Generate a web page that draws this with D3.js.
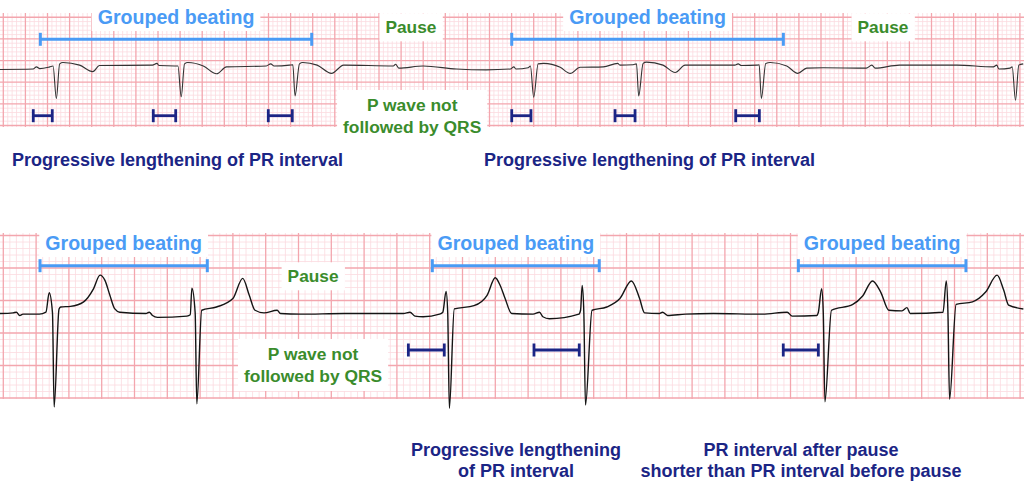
<!DOCTYPE html>
<html>
<head>
<meta charset="utf-8">
<script src="https://cdn.jsdelivr.net/npm/d3@7"></script>
<style>
  html, body { margin: 0; padding: 0; background: #fff; }
  svg { display: block; }
  text { font-family: "Liberation Sans", Arial, Helvetica, sans-serif; font-weight: bold; }
</style>
</head>
<body>
<svg id="chart" width="1024" height="492"></svg>
<script>
// ---------------- DATA (time in s, amplitude in mV) ----------------
// Upper strip (lead with inverted QRS)
const topTrace = [
  [0,-0.08],[0.30,-0.07],[0.33,-0.02],[0.36,-0.06],[0.45,-0.02],[0.48,0],[0.51,-0.75],[0.54,0.05],[0.57,0.08],
  [0.72,0.02],[0.84,-0.13],[0.90,0.01],[1.38,0.02],[1.42,0.06],[1.44,0.01],[1.58,0],[1.61,0],[1.64,-0.71],
  [1.67,0.05],[1.70,0.08],[1.84,0],[1.96,-0.18],[2.05,-0.02],[2.41,0],[2.45,0.05],[2.48,0],[2.62,0.02],
  [2.65,0.03],[2.67,-0.69],[2.71,0.05],[2.74,0.08],[2.87,0.02],[3.00,-0.17],[3.11,0.02],[3.56,0],[3.58,0.04],
  [3.61,-0.05],[3.83,0],[4.13,-0.07],[4.40,-0.09],[4.62,-0.07],[4.65,-0.02],[4.67,-0.07],[4.78,-0.04],[4.80,0],
  [4.83,-0.72],[4.87,0.05],[4.92,0.06],[5.07,-0.03],[5.16,-0.17],[5.25,-0.03],[5.46,-0.02],[5.59,0.06],[5.61,0.02],
  [5.73,0.03],[5.76,0.05],[5.78,-0.69],[5.82,0.06],[5.85,0.09],[6.00,0.02],[6.11,-0.15],[6.20,0.02],[6.65,0.02],
  [6.68,0.05],[6.71,0.01],[6.85,0.02],[6.87,0.03],[6.89,-0.75],[6.93,0.06],[6.97,0.08],[7.12,0],[7.22,-0.17],
  [7.30,-0.05],[7.45,-0.04],[7.84,-0.05],[7.89,0.02],[7.92,-0.05],[8.14,0.02],[8.66,0.02],[8.99,-0.02],[9.02,0.02],
  [9.04,-0.07],[9.14,-0.05],[9.16,-0.02],[9.19,-0.79],[9.22,0.02],[9.26,0.05]
];
// Lower strip (lead with tall T waves)
const bottomTrace = [
  [0,0],[0.08,0.01],[0.10,0.02],[0.12,-0.03],[0.14,-0.01],[0.24,-0.01],[0.28,0.02],[0.30,0.32],[0.32,0.01],
  [0.33,-1.44],[0.36,0.07],[0.37,0.10],[0.43,0.11],[0.51,0.18],[0.57,0.38],[0.61,0.59],[0.64,0.51],[0.67,0.28],
  [0.70,0.07],[0.73,0.02],[0.89,0],[0.91,0.02],[0.93,-0.03],[0.96,-0.06],[1.14,-0.04],[1.16,-0.02],[1.17,0.39],
  [1.19,0.01],[1.20,-1.39],[1.23,0.05],[1.32,0.10],[1.42,0.23],[1.48,0.54],[1.52,0.28],[1.555,0.05],[1.61,0.01],
  [1.69,0.05],[1.71,0],[1.83,-0.01],[2.10,0],[2.46,0],[2.50,0.02],[2.53,-0.04],[2.58,-0.05],[2.68,-0.01],
  [2.70,0.02],[2.72,0.34],[2.73,0.01],[2.74,-1.46],[2.77,0.07],[2.89,0.12],[2.97,0.28],[3.02,0.55],[3.05,0.43],
  [3.08,0.23],[3.12,0],[3.25,-0.01],[3.29,0.02],[3.31,-0.05],[3.35,-0.08],[3.53,-0.01],[3.54,0.05],[3.55,0.43],
  [3.56,0.01],[3.57,-1.41],[3.61,0.05],[3.70,0.10],[3.78,0.23],[3.85,0.50],[3.90,0.23],[3.93,0.01],[4.02,0],
  [4.04,0.02],[4.07,-0.03],[4.18,-0.01],[4.35,0],[4.65,-0.01],[4.80,0.02],[4.83,-0.04],[4.98,-0.03],[4.99,0.02],
  [5.01,0.38],[5.02,0.01],[5.03,-1.36],[5.07,0.05],[5.20,0.14],[5.26,0.27],[5.32,0.50],[5.37,0.33],[5.42,0.05],
  [5.50,0.04],[5.53,0.09],[5.55,0],[5.75,0.02],[5.77,0.50],[5.78,0.02],[5.79,-1.32],[5.83,0.14],[5.93,0.18],
  [6.01,0.33],[6.08,0.59],[6.12,0.36],[6.15,0.13],[6.24,0.07]
];

// Annotations (positions in seconds along each strip)
const groupedTop = [[0.365, 2.821], [4.631, 7.089]];
const groupedBottom = [[0.244, 1.264], [2.636, 3.654], [4.868, 5.890]];
const pauseTop = [3.719, 7.991];
const pauseBottom = [1.909];
const pNotConductedTop = [3.73];
const pNotConductedBottom = [1.909];
const prTop = [[0.301,0.473],[1.387,1.590],[2.428,2.645],[4.631,4.805],[5.566,5.747],[6.658,6.872]];
const prBottom = [[2.490,2.709],[3.256,3.532],[4.776,4.990]];
const labelGrouped = "Grouped beating";
const labelPause = "Pause";
const labelPNot = ["P wave not", "followed by QRS"];
const captionTop = [[0.109, ["Progressive lengthening of PR interval"]], [4.380, ["Progressive lengthening of PR interval"]]];
const captionBottom = [[3.146, ["Progressive lengthening", "of PR interval"]],
                       [4.884, ["PR interval after pause", "shorter than PR interval before pause"]]];

// ---------------- LAYOUT ----------------
const W = 1024;
const C = { blue: "#4a9bf5", green: "#3a8c2c", navy: "#1b2585", major: "#f3a6ae", minor: "#fbdbe0" };

const strips = [
  { trace: topTrace, pxPerSec: 110.5, pxPerMv: 43.3, baseY: 66, gridTop: 13, gridBot: 127, anchorX: 3.3, anchorY: 60.55,
    traceW: 1.1, traceC: "#333", groupedBarY: 39.3, groupedTextY: 24, prY: 115.7, grouped: groupedTop, pause: pauseTop, pauseY: 33.3,
    pnot: pNotConductedTop, pnotY: [111, 133], pr: prTop, captions: captionTop, capY: [166], capAnchor: "start" },
  { trace: bottomTrace, pxPerSec: 164, pxPerMv: 65, baseY: 313.5, gridTop: 233, gridBot: 399, anchorX: 3.3, anchorY: 300.5,
    traceW: 1.4, traceC: "#151515", groupedBarY: 265.7, groupedTextY: 250, prY: 350, grouped: groupedBottom, pause: pauseBottom, pauseY: 282.3,
    pnot: pNotConductedBottom, pnotY: [360, 382], pr: prBottom, captions: captionBottom, capY: [456, 477], capAnchor: "middle" }
];

const svg = d3.select("#chart");
svg.append("rect").attr("width", W).attr("height", 492).attr("fill", "#fff");

function labelBox(g, x, ys, lines, color, size, padX, padY, clipTop) {
  const grp = g.append("g");
  const rect = grp.append("rect").attr("fill", "#fff");
  const t = grp.append("text").attr("text-anchor", "middle").attr("fill", color).attr("font-size", size);
  lines.forEach((ln, i) => t.append("tspan").attr("x", x).attr("y", ys[i]).text(ln));
  const bb = t.node().getBBox();
  let y0 = bb.y - padY;
  if (clipTop !== undefined) y0 = Math.max(y0, clipTop);
  rect.attr("x", bb.x - padX).attr("y", y0).attr("width", bb.width + 2 * padX).attr("height", bb.y + bb.height + padY - y0);
}

strips.forEach(s => {
  const x = d3.scaleLinear().domain([0, W / s.pxPerSec]).range([0, W]);
  const y = d3.scaleLinear().domain([-1, 1]).range([s.baseY + s.pxPerMv, s.baseY - s.pxPerMv]);
  const g = svg.append("g");

  // grid
  const t0 = x.invert(s.anchorX), v0 = y.invert(s.anchorY);
  const grid = g.append("g");
  const vx = [], hy = [];
  for (let k = -1; ; k++) { const px = x(t0 + k * 0.04); if (px > W) break; if (px >= 0) vx.push({ px, major: k % 5 === 0 }); }
  for (let k = -30; k <= 30; k++) { const py = y(v0 + k * 0.1); if (py >= s.gridTop && py <= s.gridBot) hy.push({ py, major: ((k % 5) + 5) % 5 === 0 }); }
  [false, true].forEach(maj => {
    grid.selectAll(null).data(vx.filter(d => d.major === maj)).join("line")
      .attr("x1", d => d.px).attr("x2", d => d.px).attr("y1", s.gridTop).attr("y2", s.gridBot)
      .attr("stroke", maj ? C.major : C.minor).attr("stroke-width", maj ? 1.3 : 0.8);
    grid.selectAll(null).data(hy.filter(d => d.major === maj)).join("line")
      .attr("x1", 0).attr("x2", W).attr("y1", d => d.py).attr("y2", d => d.py)
      .attr("stroke", maj ? C.major : C.minor).attr("stroke-width", maj ? 1.3 : 0.8);
  });

  // trace
  const line = d3.line().x(d => x(d[0])).y(d => y(d[1])).curve(d3.curveMonotoneX);
  g.append("path").datum(s.trace).attr("d", line).attr("fill", "none")
    .attr("stroke", s.traceC).attr("stroke-width", s.traceW).attr("stroke-linejoin", "round");

  // grouped beating labels + bars
  s.grouped.forEach(([a, b]) => {
    labelBox(g, x((a + b) / 2), [s.groupedTextY], [labelGrouped], C.blue, 19.6, 6, 3, s.gridTop - 1);
    const br = g.append("g").attr("stroke", C.blue).attr("stroke-width", 3);
    br.append("line").attr("x1", x(a)).attr("x2", x(b)).attr("y1", s.groupedBarY).attr("y2", s.groupedBarY);
    [a, b].forEach(t => br.append("line").attr("x1", x(t)).attr("x2", x(t))
      .attr("y1", s.groupedBarY - 6.5).attr("y2", s.groupedBarY + 6.5));
  });

  // pause
  s.pause.forEach(t => labelBox(g, x(t), [s.pauseY], [labelPause], C.green, 17.3, 6, 4, s.gridTop - 1));
  // P wave not followed by QRS
  s.pnot.forEach(t => labelBox(g, x(t), s.pnotY, labelPNot, C.green, 17.4, 6, 5));

  // PR interval brackets
  s.pr.forEach(([a, b]) => {
    const br = g.append("g").attr("stroke", C.navy).attr("stroke-width", 2.8);
    br.append("line").attr("x1", x(a)).attr("x2", x(b)).attr("y1", s.prY).attr("y2", s.prY);
    [a, b].forEach(t => br.append("line").attr("x1", x(t)).attr("x2", x(t))
      .attr("y1", s.prY - 6.5).attr("y2", s.prY + 6.5));
  });

  // captions
  s.captions.forEach(([t, lines]) => {
    const tx = g.append("text").attr("fill", C.navy).attr("font-size", 18).attr("text-anchor", s.capAnchor);
    lines.forEach((ln, i) => tx.append("tspan").attr("x", x(t)).attr("y", s.capY[i]).text(ln));
  });
});
</script>
</body>
</html>
